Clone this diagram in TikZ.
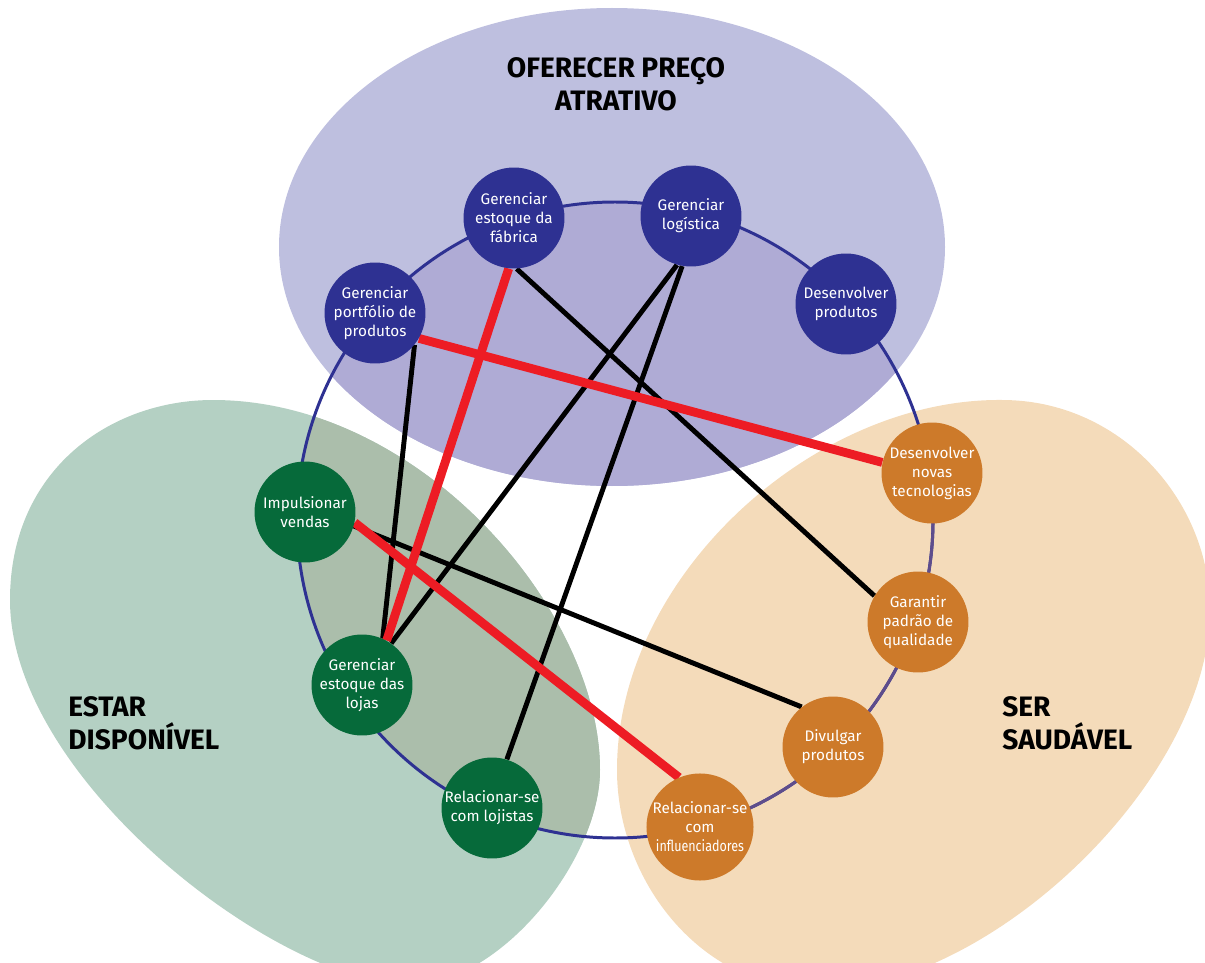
\documentclass[tikz,border=0pt]{standalone}
\usepackage{fontspec}
\setmainfont{Fira Sans}
\usepackage{graphicx}
\definecolor{purpleA}{HTML}{BEBFDF}
\definecolor{purpleB}{HTML}{AFABD5}
\definecolor{greenA}{HTML}{B4D0C3}
\definecolor{greenB}{HTML}{ABBEAB}
\definecolor{orangeA}{HTML}{F4DBBA}
\definecolor{pnodec}{HTML}{2E3192}
\definecolor{gnodec}{HTML}{066A3A}
\definecolor{onodec}{HTML}{CD7A2A}
\definecolor{ringA}{HTML}{2E3192}
\definecolor{ringB}{HTML}{5E4D8C}
\definecolor{linered}{HTML}{ED1C24}
\pgfdeclarelayer{back}
\pgfdeclarelayer{mid}
\pgfsetlayers{back,mid,main}
\tikzset{
  act/.style={circle, minimum size=2.02cm, inner sep=0pt, align=center, text=white,
    font=\fontsize{8.7}{10.8}\selectfont},
  pnode/.style={act, fill=pnodec},
  gnode/.style={act, fill=gnodec},
  onode/.style={act, fill=onodec},
  redline/.style={draw=linered, line width=5pt},
  blackline/.style={draw=black, line width=2.8pt},
  ringline/.style={line width=1.7pt},
  goal/.style={font=\fontsize{16}{18.7}\selectfont\bfseries, inner sep=0pt}
}
\newcommand{\greenblob}{(213,400) .. controls (420,400) and (600,610) .. (600,770)
  .. controls (600,860) and (500,985) .. (410,985)
  .. controls (280,985) and (10,780) .. (10,600)
  .. controls (10,470) and (110,400) .. (213,400) -- cycle}
\newcommand{\orangeblob}{(1002,400) .. controls (1120,400) and (1210,500) .. (1210,610)
  .. controls (1210,780) and (990,990) .. (820,990)
  .. controls (700,990) and (617,880) .. (617,770)
  .. controls (617,575) and (815,398) .. (1002,400) -- cycle}
\begin{document}
\begin{tikzpicture}[x=0.02cm,y=-0.02cm]
\useasboundingbox (0,0) rectangle (1205,963);
\coordinate (C) at (615,520);

% activity nodes
\node[pnode] (fab) at (514,218) {Gerenciar\\estoque da\\fábrica};
\node[pnode] (log) at (691,216) {Gerenciar\\logística};
\node[pnode] (port) at (375,313) {Gerenciar\\portfólio de\\produtos};
\node[pnode] (devp) at (846,304) {Desenvolver\\produtos};
\node[onode] (tec) at (932,473) {Desenvolver\\novas\\tecnologias};
\node[onode] (gar) at (918,622) {Garantir\\padrão de\\qualidade};
\node[onode] (div) at (833,747) {Divulgar\\produtos};
\node[onode] (inf) at (700,827) {Relacionar-se\\com\\\scalebox{0.82}[1]{influenciadores}};
\node[gnode] (vendas) at (305,512) {Impulsionar\\vendas};
\node[gnode] (lojas) at (362,685) {Gerenciar\\estoque das\\lojas};
\node[gnode] (lojistas) at (492,808) {Relacionar-se\\com lojistas};

% goal labels
\node[goal, align=center] (goalp) at (616,84) {OFERECER PREÇO\\ATRATIVO};
\node[goal, align=left, anchor=west] (goalg) at (68,723) {ESTAR\\DISPONÍVEL};
\node[goal, align=left, anchor=west] (goalo) at (1002,723) {SER\\SAUDÁVEL};

\begin{pgfonlayer}{back}
\begin{scope}
\clip (0,0) rectangle (1205,963);
\fill[purpleA] (612,247) ellipse[x radius=333, y radius=239];
\fill[greenA] \greenblob;
\fill[orangeA] \orangeblob;
\begin{scope}
\clip (C) circle[radius=318];
\fill[purpleB] (612,247) ellipse[x radius=333, y radius=239];
\fill[greenB] \greenblob;
\end{scope}
\draw[ringline, ringA] (C) circle[radius=318];
\draw[ringline, ringB] (C) ++(-9:318) arc[start angle=-9, end angle=80, radius=318];
\end{scope}
\end{pgfonlayer}

\begin{pgfonlayer}{mid}
\draw[blackline] (fab.-87) -- (gar.149);
\draw[blackline] (log.-106) -- (lojas.55);
\draw[blackline] (log.-100) -- (lojistas.73);
\draw[blackline] (port.-39) -- (lojas.66);
\draw[blackline] (vendas.-16) -- (div.128);
\draw[redline] (port.-30) -- (tec.168);
\draw[redline] (fab.-96) -- (lojas.61);
\draw[redline] (vendas.-12) -- (inf.113);
\end{pgfonlayer}
\end{tikzpicture}
\end{document}
